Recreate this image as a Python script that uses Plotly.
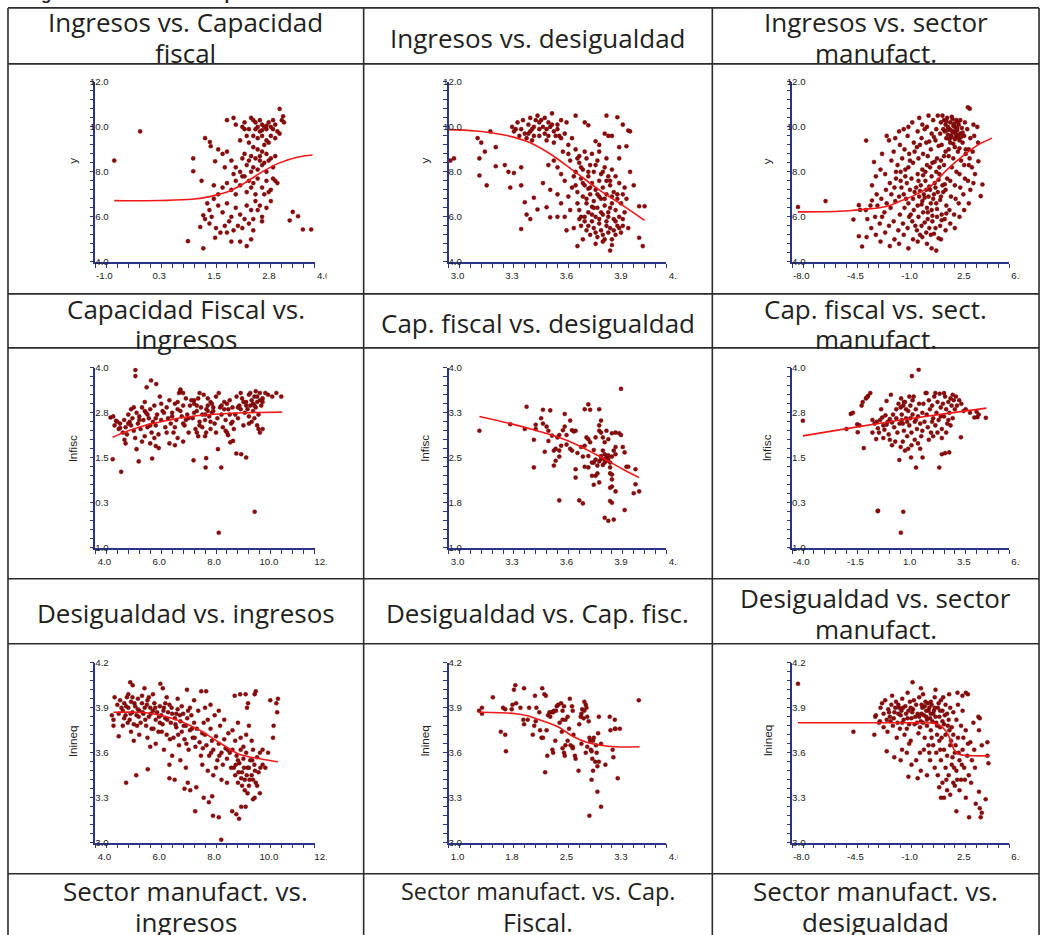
import plotly.graph_objects as go

W, H = 1042, 935

# ---------------- data ----------------
p1 = [(-0.57,8.5),(0.02,9.8),(1.23,8.6),(1.23,8.03),(1.42,7.6),(1.46,6.07),(1.11,4.92),(1.46,4.6),(1.5,9.5),(1.61,9.33),
      (1.63,9.14),(1.73,8.47),(1.39,5.55),(1.73,5.07),(3.92,5.44),(3.73,5.44),(3.62,6.03),(3.5,6.22),(3.43,5.84),(3.2,10.8),
      (3.28,10.47),(3.25,10.3),(3.3,10.2),
      (2.55,10.4),(2.6,10.3),(2.65,9.9),(2.7,10.0),(2.75,9.8),(2.8,10.1),(2.85,10.0),(2.9,9.9),(2.95,10.2),(3.0,10.0),(3.05,9.9),
      (3.1,10.1),(3.15,9.8),(3.2,9.7),(2.7,9.5),(2.8,9.6),(2.9,9.4),(3.0,9.6),(2.6,9.6),(2.45,9.6),(2.4,9.9),(2.35,10.0),(2.2,10.1),
      (2.15,10.4),(2.0,10.3),(2.3,9.4),(2.5,9.3),(2.85,9.2),(2.95,9.3),(3.1,9.5),(2.75,10.3),(2.65,10.2),(3.05,10.3),(2.9,10.05),
      (2.8,9.85),(2.5,9.9),(2.4,10.2),
      (2.6,9.1),(2.7,9.0),(2.8,8.9),(2.9,8.8),(2.55,8.7),(2.65,8.6),(2.75,8.5),(2.85,8.4),(2.5,8.5),(2.45,8.3),(2.6,8.2),(2.7,8.1),
      (2.8,8.3),(2.9,8.0),(3.0,8.6),(3.05,8.2),(2.35,8.6),(2.2,8.2),(2.1,8.5),(2.0,8.9),(1.9,8.8),(1.8,9.0),(2.3,8.0),(2.15,7.9),
      (1.95,8.2),(2.4,8.8),(2.55,8.0),(2.75,8.7),(2.95,8.5),(3.1,8.7),
      (2.0,7.5),(2.1,7.2),(2.2,7.6),(2.3,7.4),(2.4,7.8),(2.5,7.6),(2.6,7.5),(2.7,7.7),(2.8,7.3),(2.9,7.6),(3.0,7.2),(3.1,7.6),
      (3.15,7.5),(3.05,7.7),(1.8,7.0),(1.9,7.3),(2.2,7.0),(2.45,7.1),(2.65,7.0),(2.85,7.0),(2.95,7.1),(1.7,7.4),(2.35,7.8),(2.55,7.3),
      (1.6,6.3),(1.65,6.0),(1.7,6.8),(1.8,6.5),(1.9,6.2),(2.0,6.6),(2.05,5.8),(2.1,6.0),(2.2,6.4),(2.25,5.6),(2.3,6.1),(2.4,5.9),
      (2.45,6.5),(2.5,5.7),(2.55,6.3),(2.6,5.9),(2.65,6.7),(2.7,6.3),(2.75,6.5),(2.8,6.0),(2.9,6.4),(3.0,6.7),(1.75,5.5),(1.85,5.3),
      (1.95,5.6),(2.0,5.3),(2.15,5.4),(2.35,5.5),(2.6,5.4),(2.8,5.8),(2.1,4.9),(2.3,4.9),(2.45,4.7),(2.55,5.0),(1.55,6.6),(1.5,5.9),(1.6,5.7)]
c1x = [-0.57, 0.5, 1.2, 1.6, 2.0, 2.4, 2.8, 3.2, 3.6, 3.95]
c1y = [6.72, 6.73, 6.78, 6.9, 7.1, 7.5, 8.0, 8.4, 8.65, 8.75]

p2 = [(3.01,8.5),(3.03,8.6),(3.16,9.5),(3.18,9.3),(3.17,8.6),(3.17,7.84),(3.21,7.4),(3.2,8.9),(3.26,8.25),(3.26,9.1),(3.23,9.8),
      (3.31,8.3),(3.33,8.0),(3.34,7.3),(3.36,7.95),(3.4,8.2),(3.4,7.4),(3.42,6.65),(3.43,6.1),(3.4,5.46),(3.45,5.9),(3.47,6.85),
      (3.49,6.33),(3.54,6.43),(3.56,5.98),(3.71,4.7),(3.89,4.5),(4.05,5.07),(4.07,4.7),(4.08,6.47),(4.05,6.47),(4.02,7.4),(4.0,8.0),
      (3.99,9.84),(4.0,9.8),(3.96,10.1),(3.93,10.43),(3.87,10.5),(3.77,10.07),(3.75,10.2),(3.7,10.5),(3.65,10.2),(3.98,9.14),
      (3.94,8.6),(3.94,9.1),(3.9,9.6),(3.88,9.6),(3.86,9.7),(3.83,9.2),(3.81,9.36),
      (3.35,10.0),(3.38,10.2),(3.4,9.9),(3.42,9.7),(3.44,10.1),(3.45,9.8),(3.47,10.0),(3.48,10.3),(3.5,9.9),(3.52,10.0),(3.53,9.7),
      (3.55,10.2),(3.56,10.0),(3.58,9.8),(3.6,10.1),(3.61,9.6),(3.43,9.5),(3.46,9.4),(3.5,9.6),(3.54,9.4),(3.58,9.3),(3.62,9.5),
      (3.39,9.6),(3.36,9.8),(3.49,10.5),(3.53,10.4),(3.57,10.6),(3.45,10.4),(3.41,10.3),(3.6,9.9),(3.64,9.7),(3.66,9.2),(3.68,9.5),
      (3.63,8.9),(3.66,8.8),(3.7,9.0),(3.67,8.5),(3.72,8.7),(3.58,8.5),(3.6,8.2),(3.62,7.9),(3.55,8.3),(3.52,7.5),(3.56,7.2),
      (3.6,7.0),(3.64,7.6),(3.66,6.9),(3.62,6.6),(3.6,6.0),(3.64,6.0),(3.67,6.3),(3.65,5.4),(3.69,5.5),(3.68,7.3),
      (3.72,8.4),(3.74,8.1),(3.76,8.6),(3.78,8.3),(3.8,8.0),(3.82,8.5),(3.84,7.9),(3.86,8.2),(3.88,7.8),(3.9,8.1),(3.73,7.7),
      (3.75,7.4),(3.77,7.8),(3.79,7.5),(3.81,7.2),(3.83,7.6),(3.85,7.3),(3.87,7.0),(3.89,7.4),(3.91,7.1),(3.93,6.8),(3.71,7.1),
      (3.74,6.9),(3.76,6.6),(3.78,7.0),(3.8,6.7),(3.82,6.4),(3.84,6.8),(3.86,6.5),(3.88,6.2),(3.9,6.6),(3.92,6.3),(3.94,6.0),
      (3.72,6.3),(3.75,6.0),(3.77,6.2),(3.79,5.8),(3.81,6.0),(3.83,5.7),(3.85,6.1),(3.87,5.8),(3.89,5.5),(3.91,5.9),(3.93,5.6),
      (3.95,5.3),(3.73,5.6),(3.76,5.4),(3.78,5.2),(3.8,5.5),(3.82,5.1),(3.84,5.4),(3.86,5.0),(3.88,5.3),(3.9,5.0),(3.92,5.2),
      (3.96,5.6),(3.97,6.2),(3.95,6.6),(3.96,7.0),(3.98,6.8),(3.75,8.9),(3.79,8.8),(3.83,8.9),(3.87,8.6),(3.7,8.0),(3.74,5.0),
      (3.81,4.8),(3.85,4.9),(3.9,4.75),(3.99,5.5),(3.94,7.5),(3.92,7.8),(3.97,7.3),(3.79,6.45),(3.83,6.9),(3.87,7.6),(3.77,7.25),
      (3.73,8.2),(3.77,8.0),(3.81,8.3),(3.85,8.0),(3.89,7.6),(3.74,7.5),(3.78,7.3),(3.82,7.0),(3.86,6.8),(3.9,6.9),(3.76,6.8),
      (3.8,6.4),(3.84,6.2),(3.88,6.0),(3.92,5.8),(3.75,5.8),(3.79,6.1),(3.83,5.9),(3.87,5.6),(3.91,5.4),(3.71,6.6),(3.7,7.4),
      (3.72,5.9),(3.94,5.5),(3.96,5.9),(3.85,5.2),(3.81,5.3),(3.77,5.6),(3.73,6.0),(3.89,6.4),(3.93,7.0),(3.69,7.8),(3.71,8.6),
      (3.46,9.9),(3.5,10.2),(3.54,9.9),(3.57,10.1),(3.44,9.7),(3.47,9.6),(3.51,10.3),(3.55,9.6),(3.59,9.6),(3.62,10.3),(3.37,9.9)]
c2x = [3.0, 3.15, 3.3, 3.43, 3.55, 3.68, 3.83, 3.98, 4.08]
c2y = [9.88, 9.82, 9.65, 9.36, 8.85, 8.1, 7.2, 6.4, 5.84]

p3 = [(-7.63,6.44),(-5.85,6.7),(-3.23,9.39),(-4.05,5.88),(-3.7,6.52),(-3.7,5.14),(-3.49,4.68),(-3.62,6.31),(-2.85,6.73),
      (-2.72,8.44),(4.28,7.44),(4.02,8.47),(4.17,6.92),(3.34,10.87),(3.46,10.81),
      (-3.2,5.1),(-3.15,5.9),(-3.25,6.3),(-2.9,5.5),(-2.95,6.5),(-2.85,7.4),(-2.6,5.2),(-2.65,6.0),(-2.55,7.0),(-2.6,7.8),
      (-2.3,4.9),(-2.35,5.7),(-2.25,6.8),(-2.3,8.1),(-2.2,8.8),(-2.0,5.3),(-2.05,6.2),(-1.95,7.2),(-2.0,7.9),(-1.9,9.6),
      (-1.7,4.7),(-1.75,5.6),(-1.65,6.4),(-1.7,7.5),(-1.6,8.5),(-1.75,9.4),(-1.4,5.0),(-1.45,5.8),(-1.35,6.7),(-1.4,7.3),
      (-1.3,8.0),(-1.45,8.9),(-1.35,9.5),(-1.1,4.8),(-1.15,5.4),(-1.05,6.1),(-1.1,6.9),(-1.0,7.6),(-1.2,8.3),(-1.05,9.2),
      (-1.1,9.8),(-0.8,5.2),(-0.85,5.7),(-0.75,6.4),(-0.8,7.0),(-0.7,7.8),(-0.9,8.6),(-0.75,9.0),(-0.8,9.9),(-0.5,4.6),
      (-0.55,5.5),(-0.45,6.0),(-0.5,6.6),(-0.4,7.2),(-0.6,7.5),(-0.5,8.2),(-0.45,8.8),(-0.55,9.6),(-0.5,10.0),(-0.2,5.0),
      (-0.25,5.8),(-0.15,6.3),(-0.2,6.8),(-0.1,7.1),(-0.3,7.7),(-0.2,8.4),(-0.15,9.3),(-0.25,10.2),(0.1,4.9),(0.05,5.4),
      (0.15,6.0),(0.1,6.5),(0.2,6.9),(0.0,7.3),(0.1,7.9),(0.15,8.6),(0.05,9.1),(0.1,9.8),(0.2,10.4),(0.4,5.1),(0.35,5.6),
      (0.45,6.2),(0.4,6.7),(0.5,7.0),(0.3,7.4),(0.4,8.1),(0.45,8.8),(0.35,9.5),(0.4,10.1),(0.7,4.8),(0.65,5.3),(0.75,5.9),
      (0.7,6.4),(0.8,6.9),(0.6,7.6),(0.7,8.3),(0.75,8.7),(0.65,9.3),(0.7,10.0),(0.8,10.5),(1.0,4.6),(0.95,5.2),(1.05,5.8),
      (1.0,6.3),(1.1,6.8),(0.9,7.2),(1.0,7.8),(1.05,8.4),(0.95,9.0),(1.0,9.7),(1.1,10.3),(1.3,4.5),(1.25,5.5),(1.35,6.0),
      (1.3,6.6),(1.4,7.1),(1.2,7.5),(1.3,8.0),(1.35,8.6),(1.25,9.4),(1.3,9.9),(1.4,10.5),(1.6,5.0),(1.55,5.6),(1.65,6.1),
      (1.6,6.9),(1.7,7.4),(1.5,7.9),(1.6,8.5),(1.65,9.2),(1.55,9.7),(1.6,10.2),(1.7,10.5),(1.9,5.4),(1.85,5.9),(1.95,6.5),
      (1.9,7.2),(2.0,7.7),(1.8,8.3),(1.9,8.9),(1.95,9.5),(1.85,9.8),(1.9,10.1),(2.0,10.4),(2.2,5.7),(2.15,6.3),(2.25,6.9),
      (2.2,7.6),(2.3,8.2),(2.1,8.7),(2.2,9.3),(2.25,9.6),(2.15,9.9),(2.2,10.2),(2.5,5.5),(2.45,6.1),(2.55,6.8),(2.5,7.4),
      (2.6,8.0),(2.4,8.6),(2.5,9.1),(2.55,9.5),(2.45,9.8),(2.5,10.0),(2.6,10.3),(2.8,6.0),(2.75,6.6),(2.85,7.3),(2.8,7.9),
      (2.9,8.5),(2.7,8.9),(2.8,9.4),(2.85,9.7),(2.75,10.1),(3.1,6.3),(3.05,7.0),(3.15,7.7),(3.1,8.3),(3.2,8.8),(3.0,9.3),
      (3.1,9.6),(3.15,10.2),(3.4,6.6),(3.35,7.6),(3.45,8.6),(3.4,9.0),(3.5,9.5),(3.3,9.9),(3.7,7.5),(3.65,8.9),(3.75,9.6),
      (3.7,10.1),(4.0,9.3),(3.95,10.0),(2.35,9.75),(2.65,9.85),(2.05,9.65),(2.4,10.05),(2.7,9.55),(1.8,10.3),(2.95,9.95),
      (0.25,7.15),(0.55,6.85),(0.85,7.35),(1.15,7.0),(1.45,7.65),(1.75,7.1),(0.35,6.55),(0.65,7.2),(0.95,6.6),(1.25,7.3),
      (1.55,6.75),(1.85,7.45),(0.15,7.6),(0.45,7.85),(0.75,6.2),(1.05,6.05),(1.35,6.35),(1.65,5.85),(1.95,6.15),(0.55,5.75),
      (0.85,5.5),(1.15,5.25),(1.45,5.05),(0.25,5.2),(-0.05,5.6),(-0.35,6.1),(-0.65,6.8),(-0.95,7.3),(0.6,8.0),(0.9,8.2),
      (1.2,8.45),(1.5,8.2),(1.8,8.7),(2.1,9.0),(2.4,9.25),(2.3,9.55),(2.0,9.85),(2.6,9.65),(2.7,10.2),(2.35,10.35),(2.05,10.0),
      (1.75,9.9),(2.5,9.45),(2.8,9.05),(2.15,9.45),(2.45,10.15),(1.95,10.25),(2.25,9.85),(2.55,9.7),(2.65,9.95),(2.85,10.3),
      (3.0,9.75),(2.9,9.55),(2.3,10.45),(1.45,9.15),(1.15,9.55),(0.85,9.35),(0.55,9.9),(0.25,9.2),(-0.1,8.9),(-0.4,8.5),
      (-0.7,8.1),(-1.0,8.0),(-1.3,7.7),(-1.6,7.0),(-1.9,6.6),(-2.2,6.0),(-2.5,6.5),(3.2,9.0),(3.4,8.3),(3.6,8.2),(3.5,7.2),(3.8,7.9)]
c3x = [-7.63, -5.0, -3.5, -2.0, -1.0, 0.0, 1.0, 2.0, 3.0, 4.0, 4.9]
c3y = [6.22, 6.25, 6.33, 6.45, 6.7, 7.0, 7.4, 8.1, 8.7, 9.2, 9.5]

p4 = [(4.63,1.46),(4.94,1.11),(5.46,3.94),(5.46,3.77),(5.87,3.46),(6.03,3.65),(6.22,3.55),(4.75,2.53),(4.9,2.33),(5.06,2.0),
      (5.5,1.74),(5.58,1.4),(6.07,1.48),(6.31,1.77),(6.2,1.83),(7.58,1.43),(8.02,1.23),(8.04,1.49),(8.59,1.23),(8.47,1.74),
      (9.14,1.62),(9.32,1.6),(9.5,1.51),(9.02,1.97),(8.92,1.93),(8.5,-0.58),(9.81,0.0),(8.04,2.2),(8.75,2.25),(8.84,2.13),
      (4.55,2.62),(4.7,2.4),(4.85,2.3),(4.9,2.45),(5.0,2.2),(5.05,2.55),(5.1,2.35),(5.15,2.15),(5.2,2.7),(5.25,2.5),(5.3,2.4),
      (5.35,2.6),(5.4,2.25),(5.45,2.05),(5.5,2.75),(4.65,2.65),(5.1,1.9),(5.3,2.85),
      (5.55,2.45),(5.6,2.65),(5.65,2.3),(5.7,2.9),(5.75,2.55),(5.8,2.1),(5.85,2.75),(5.9,2.35),(5.95,2.6),(6.0,2.85),(6.05,2.2),
      (6.1,2.5),(6.15,2.95),(6.2,2.4),(6.25,2.7),(6.3,2.15),(6.35,3.2),(6.4,2.55),(6.45,2.8),(5.7,1.95),(5.8,3.05),(6.0,1.9),(6.15,2.05),
      (6.55,2.35),(6.6,2.9),(6.65,2.6),(6.7,3.1),(6.75,2.45),(6.8,2.75),(6.85,2.2),(6.9,3.0),(6.95,2.55),(7.0,2.85),(7.05,3.3),
      (7.1,3.4),(7.15,2.65),(7.2,2.95),(7.25,2.4),(7.3,3.15),(7.35,2.7),(7.4,2.2),(7.45,2.95),(6.7,1.9),(6.9,1.85),(7.0,2.05),
      (7.2,1.95),(7.3,2.55),(7.1,3.35),(7.2,3.3),
      (7.55,2.6),(7.6,3.0),(7.65,2.3),(7.7,2.8),(7.75,3.15),(7.8,2.5),(7.85,2.9),(7.9,2.7),(7.95,3.25),(8.0,2.55),(8.05,2.85),
      (8.1,2.95),(8.15,2.65),(8.2,3.05),(8.25,2.75),(8.3,2.9),(8.35,2.45),(8.4,3.2),(8.45,2.6),(7.7,2.2),(7.9,2.35),(8.0,2.1),
      (8.2,2.3),(7.6,3.1),(7.8,3.3),(8.1,2.8),(8.25,3.0),(7.75,2.1),
      (8.5,3.3),(8.55,2.9),(8.6,2.7),(8.7,3.05),(8.75,2.55),(8.85,2.85),(8.9,3.1),(8.95,2.45),(9.0,2.9),(9.1,2.7),(9.15,3.2),
      (9.2,2.6),(9.3,2.85),(9.35,3.15),(9.4,2.4),(9.45,2.75),(8.65,2.35),(8.8,2.2),(9.05,2.3),(9.25,2.95),
      (9.5,3.05),(9.55,2.85),(9.6,3.25),(9.65,2.95),(9.7,3.1),(9.75,2.8),(9.8,3.2),(9.85,2.9),(9.9,3.05),(9.95,2.7),(10.0,3.3),
      (10.05,2.95),(10.1,3.15),(10.2,3.3),(10.3,3.25),(10.45,3.2),(9.6,2.45),(9.7,2.5),(9.9,2.4),(9.95,2.3),(10.0,2.2),(10.1,2.3),
      (9.8,2.6),(9.65,3.3),(9.75,3.0),(9.85,3.35),(10.78,3.2),(10.6,3.3),
      (5.6,2.55),(5.9,2.7),(6.2,2.6),(6.5,2.75),(6.8,2.65),(7.1,2.8),(7.4,2.6),(7.7,2.95),(8.0,2.7),(8.3,2.8),(8.6,2.95),
      (8.9,2.7),(9.2,2.9),(9.5,2.95),(9.8,2.95),(10.1,3.05),(6.0,2.4),(6.6,2.2),(7.2,2.45),(7.8,2.4),(8.4,2.2),(9.0,2.5),
      (9.6,2.65),(5.2,2.45),(5.8,2.8),(6.4,3.0),(7.0,3.05),(7.6,2.75),(8.2,2.5),(8.8,3.0),(9.4,3.05),(10.0,3.1),(4.8,2.5),
      (5.4,2.9),(6.9,2.35),(7.5,3.1),(8.1,3.15),(8.7,2.85),(9.3,3.3),(9.9,3.2)]
c4x = [4.63, 5.2, 5.8, 6.5, 7.2, 8.0, 9.0, 10.0, 10.8]
c4y = [2.07, 2.25, 2.4, 2.52, 2.62, 2.69, 2.74, 2.76, 2.77]

p5 = [(3.43,3.35),(3.52,3.3),(3.56,3.29),(3.64,3.23),(3.77,3.39),(3.75,3.31),(3.78,3.3),(3.83,3.31),(3.84,3.12),(3.95,3.65),
      (3.17,2.95),(3.34,3.06),(3.42,2.98),(3.48,3.05),(3.48,2.98),(3.51,3.16),(3.52,3.07),(3.54,3.02),(3.55,2.95),(3.55,2.78),
      (3.47,2.8),(3.47,2.34),(3.58,2.37),(3.59,2.45),(3.61,1.79),(3.58,2.62),(3.59,2.65),(3.61,2.62),(3.62,2.7),(3.6,2.84),
      (3.61,2.88),(3.63,2.96),(3.64,3.02),(3.65,2.88),(3.65,2.72),(3.67,3.12),(3.68,2.96),(3.69,2.94),(3.7,2.95),(3.67,2.65),
      (3.68,2.62),(3.7,2.31),(3.7,2.17),(3.72,1.79),(3.74,1.74),(3.74,2.52),(3.75,2.35),(3.73,2.68),(3.75,2.7),(3.76,2.84),
      (3.77,2.81),(3.78,2.76),(3.77,2.53),(3.79,2.2),(3.8,2.05),(3.81,2.2),(3.82,2.24),(3.83,2.09),(3.81,2.84),(3.83,2.95),
      (3.83,3.04),(3.84,2.92),(3.85,2.84),(3.86,2.76),(3.86,2.56),(3.86,2.48),(3.87,2.51),(3.87,2.45),(3.88,2.54),(3.88,2.48),
      (3.89,2.42),(3.85,2.38),(3.89,2.34),(3.9,2.52),(3.91,2.62),(3.92,2.68),(3.92,2.56),(3.87,2.95),(3.88,2.81),(3.9,2.91),
      (3.92,2.92),(3.94,2.91),(3.95,2.88),(3.96,2.68),(3.97,2.59),(3.89,2.24),(3.9,2.22),(3.9,2.14),(3.9,2.02),(3.89,2.0),
      (3.92,1.94),(3.89,1.78),(3.9,1.75),(3.86,1.5),(3.88,1.45),(3.91,1.47),(3.97,1.63),(3.98,2.35),(3.99,2.35),(4.03,2.31),
      (4.03,2.06),(4.05,1.94),(4.02,1.91),(3.61,2.52),(3.83,2.44),(3.84,2.48),(3.84,2.53),(3.82,2.37),(3.8,2.42),(3.79,2.42),
      (3.77,2.34),(3.53,2.6),(3.57,2.87),(3.71,2.58),(3.8,2.63),(3.85,2.62),(3.86,2.42),(3.81,2.47)]
c5x = [3.17, 3.34, 3.5, 3.66, 3.81, 3.96, 4.05]
c5y = [3.19, 3.07, 2.94, 2.78, 2.56, 2.31, 2.17]

p6 = [(-3.51,2.53),(-0.06,0.02),(-0.04,0.03),(1.12,0.0),(1.01,-0.58),(1.52,3.77),(1.83,3.95),(-0.98,2.21),(-0.7,1.77),
      (-0.13,2.02),(0.94,1.44),(1.48,1.51),(1.71,1.23),(2.01,1.51),(2.78,1.23),(2.9,1.6),(3.05,1.63),(3.24,1.65),(3.78,2.07),
      (4.93,2.61),(4.54,2.63),
      (-1.5,2.3),(-1.3,2.72),(-1.2,2.75),(-1.0,2.43),(-0.9,2.4),(-0.8,2.95),(-0.6,3.15),(-0.5,3.22),(-0.4,3.3),(-0.55,3.18),
      (-0.75,3.05),(-0.3,2.55),(-0.2,2.45),(-0.1,2.5),(-0.05,2.32),(0.0,2.2),(0.1,2.85),(0.15,2.62),(0.2,2.4),(0.25,2.28),
      (0.3,2.68),(0.35,3.08),(0.4,2.5),(0.45,2.15),(0.5,2.58),(0.55,3.25),(0.6,2.48),(0.65,2.7),(0.7,2.35),(0.75,1.95),(0.8,2.6),
      (0.85,2.2),(0.9,3.0),(0.95,2.45),(0.8,2.85),(0.6,1.85),(0.5,2.0),(0.2,2.05),(-0.3,2.2),(0.05,2.55),(0.35,2.42),
      (1.0,2.9),(1.02,3.15),(1.05,2.7),(1.1,2.45),(1.12,2.95),(1.15,2.25),(1.2,3.05),(1.25,2.6),(1.3,2.1),(1.35,2.8),(1.4,2.4),
      (1.45,2.95),(1.5,2.2),(1.55,2.7),(1.6,3.2),(1.65,2.5),(1.7,2.85),(1.75,2.3),(1.8,2.65),(1.85,3.0),(1.9,2.45),(1.95,2.1),
      (2.0,2.75),(1.0,1.8),(1.1,1.95),(1.2,1.7),(1.35,1.75),(1.5,1.85),(1.65,2.0),(1.8,1.9),(1.9,1.75),(2.0,2.25),(1.05,2.55),
      (1.25,2.85),(1.45,2.6),(1.55,3.1),(1.4,3.2),(1.7,2.55),(1.15,3.05),(1.3,2.5),
      (2.05,3.0),(2.1,2.5),(2.15,3.3),(2.2,2.7),(2.25,2.35),(2.3,3.1),(2.35,2.85),(2.4,2.2),(2.45,2.95),(2.5,2.6),(2.55,3.2),
      (2.6,2.4),(2.65,2.75),(2.7,3.05),(2.75,2.55),(2.8,3.28),(2.85,2.9),(2.9,2.3),(2.95,3.0),(3.0,2.65),(3.05,3.2),(3.1,2.85),
      (3.15,2.45),(3.2,3.05),(3.25,2.75),(3.3,3.15),(3.35,2.95),(3.4,2.6),(3.45,3.1),(3.5,2.85),(3.55,3.2),(3.6,2.95),(3.7,3.1),
      (3.8,3.0),(3.9,2.8),(4.0,2.85),(4.2,2.75),(4.4,2.62),(4.5,2.78),(4.6,2.7),(2.3,2.0),(2.5,2.1),(2.7,2.2),(2.9,2.05),
      (3.1,2.2),(3.3,2.4),(2.2,3.3),(2.6,3.3),(3.0,3.3),(3.4,3.25),(3.2,2.55),(2.45,2.5),(2.85,2.65)]
c6x = [-3.51, -1.0, 1.0, 3.0, 4.96]
c6y = [2.11, 2.36, 2.55, 2.72, 2.88]

p7 = [(4.66,3.82),(4.66,3.78),(4.85,3.71),(5.12,3.4),(5.49,3.45),(5.91,3.49),(5.27,4.07),(5.36,4.05),(5.79,4.03),(6.37,4.06),
      (6.46,4.03),(7.34,4.02),(7.86,4.01),(8.04,4.01),(6.7,3.43),(6.89,3.42),(7.25,3.36),(7.46,3.35),(7.37,3.4),(7.64,3.21),
      (7.68,3.37),(7.95,3.3),(8.14,3.27),(8.26,3.31),(8.29,3.18),(8.5,3.17),(8.59,3.02),(8.99,3.21),(9.14,3.19),(9.24,3.16),
      (9.32,3.24),(9.48,3.24),(9.81,3.3),(9.75,3.29),(10.0,3.33),(9.08,3.98),(9.28,3.99),(9.48,3.99),(9.81,3.99),(9.85,4.01),
      (10.38,3.95),(10.6,3.93),(10.66,3.96),(10.63,3.87),(10.5,3.78),(10.48,3.7),(9.53,3.9),(9.57,3.93),
      (4.8,3.92),(4.9,3.95),(5.0,3.88),(5.05,3.93),(5.1,3.85),(5.15,3.97),(5.2,3.9),(5.25,3.82),(5.3,3.94),(5.35,3.87),(5.4,3.79),
      (5.45,3.91),(5.5,3.85),(5.55,3.96),(5.6,3.88),(5.65,3.8),(5.7,3.93),(5.75,3.86),(5.8,3.9),(5.85,3.78),(5.9,3.95),(5.95,3.84),
      (6.0,3.9),(6.05,3.76),(6.1,3.88),(6.15,3.93),(6.2,3.82),(6.25,3.87),(6.3,3.74),(6.35,3.91),(6.4,3.85),(6.45,3.79),(6.5,3.9),
      (6.55,3.83),(6.6,3.72),(6.65,3.87),(6.7,3.92),(6.75,3.8),(6.8,3.86),(6.85,3.7),(6.9,3.83),(6.95,3.77),(7.0,3.89),(7.05,3.65),
      (7.1,3.81),(7.15,3.74),(7.2,3.86),(7.25,3.69),(7.3,3.78),(7.35,3.83),(7.4,3.62),(7.45,3.75),(7.5,3.85),(7.55,3.7),(7.6,3.8),
      (7.65,3.64),(7.7,3.76),(7.75,3.88),(7.8,3.67),(7.85,3.58),(7.9,3.73),(7.95,3.8),(4.6,3.85),(4.7,3.97),(5.0,3.78),(5.3,3.74),
      (5.6,3.72),(5.9,3.7),(6.2,3.66),(6.5,3.62),(6.8,3.58),(7.1,3.55),(5.7,3.98),(6.1,3.99),(6.6,3.97),(5.2,3.99),(7.0,3.96),
      (7.6,3.95),(5.4,3.68),(6.0,3.64),(6.7,3.52),(7.3,3.5),(5.05,3.83),(5.55,3.89),(6.35,3.8),(6.95,3.86),(7.45,3.9),
      (8.0,3.72),(8.05,3.65),(8.1,3.82),(8.15,3.58),(8.2,3.76),(8.25,3.68),(8.3,3.62),(8.35,3.85),(8.4,3.71),(8.45,3.55),(8.5,3.66),
      (8.55,3.78),(8.6,3.6),(8.65,3.52),(8.7,3.69),(8.75,3.63),(8.8,3.56),(8.85,3.73),(8.9,3.6),(8.95,3.5),(8.1,3.48),(8.3,3.45),
      (8.6,3.42),(8.8,3.4),(8.0,3.9),(8.2,3.92),(8.5,3.88),(8.7,3.82),(7.9,3.52),(8.4,3.5),
      (9.0,3.62),(9.05,3.5),(9.1,3.45),(9.15,3.58),(9.2,3.4),(9.25,3.53),(9.3,3.62),(9.35,3.47),(9.4,3.56),(9.45,3.42),(9.5,3.6),
      (9.55,3.5),(9.6,3.38),(9.65,3.55),(9.7,3.45),(9.75,3.62),(9.8,3.52),(9.85,3.4),(9.9,3.57),(9.95,3.47),(10.0,3.6),(10.1,3.52),
      (10.2,3.5),(10.3,3.6),(9.2,3.55),(9.4,3.64),(9.6,3.5),(9.45,3.35),(9.55,3.33),(9.35,3.38),(9.75,3.42),(9.9,3.38),(9.1,3.68),
      (9.3,3.7),(9.5,3.72),(9.7,3.68),(9.0,3.75),(9.2,3.8),(9.6,3.78),(10.1,3.62),
      (4.95,3.9),(5.12,3.91),(5.28,3.86),(5.42,3.93),(5.58,3.84),(5.72,3.87),(5.88,3.92),(6.02,3.86),(6.18,3.9),(6.32,3.84),
      (6.48,3.88),(6.62,3.82),(6.78,3.9),(6.92,3.79),(7.08,3.85),(7.22,3.78),(7.38,3.88),(7.52,3.76),(5.18,3.8),(5.52,3.78),
      (5.82,3.82),(6.12,3.76),(6.42,3.74),(6.72,3.69),(7.02,3.72),(7.32,3.66),(7.62,3.7),(7.92,3.63),(8.22,3.6),(8.52,3.58),
      (8.82,3.62),(9.12,3.52),(9.42,3.5),(9.72,3.55),(9.52,3.45),(9.82,3.48),(9.32,3.43),(9.62,3.42),(10.02,3.5),(9.22,3.47),
      (5.35,3.97),(5.95,3.97),(6.55,3.93),(7.15,3.91),(4.85,3.86)]
c7x = [4.66, 5.5, 6.1, 6.95, 7.8, 8.5, 9.25, 10.0, 10.66]
c7y = [3.87, 3.87, 3.86, 3.82, 3.75, 3.67, 3.59, 3.56, 3.54]

p8 = [(1.42,3.88),(1.46,3.9),(1.46,3.86),(1.61,3.97),(1.72,3.74),(1.75,3.9),(1.78,3.89),(1.78,3.72),(1.79,3.61),(1.87,3.89),
      (1.88,3.92),(1.9,4.02),(1.92,4.05),(1.93,3.93),(1.99,3.9),(2.04,4.03),(2.03,3.82),(2.04,3.79),(2.09,3.82),(2.11,3.9),
      (2.16,3.72),(2.18,3.78),(2.19,3.98),(2.2,3.81),(2.21,3.9),(2.25,3.87),(2.29,4.03),(2.32,3.99),(2.34,3.98),(2.28,3.7),
      (2.3,3.7),(2.26,3.75),(2.35,3.75),(2.36,3.58),(2.33,3.47),(2.39,3.87),(2.42,3.87),(2.44,3.87),(2.45,3.88),(2.48,3.88),
      (2.43,3.62),(2.44,3.6),(2.49,3.91),(2.51,3.92),(2.55,3.93),(2.57,3.88),(2.59,3.91),(2.56,3.74),(2.57,3.82),(2.61,3.82),
      (2.64,3.84),(2.57,3.63),(2.59,3.6),(2.61,3.65),(2.6,3.58),(2.64,3.68),(2.66,3.76),(2.67,3.96),(2.7,3.91),(2.71,3.88),
      (2.72,3.72),(2.71,3.64),(2.71,3.63),(2.74,3.58),(2.75,3.56),(2.79,3.48),(2.8,3.79),(2.82,3.84),(2.83,3.86),(2.84,3.89),
      (2.86,3.83),(2.87,3.94),(2.89,3.92),(2.9,3.9),(2.87,3.88),(2.91,3.84),(2.93,3.81),(2.94,3.7),(2.95,3.68),(2.96,3.62),
      (2.97,3.61),(2.98,3.56),(2.99,3.68),(3.0,3.7),(2.94,3.18),(2.97,3.42),(2.99,3.48),(3.02,3.54),(3.03,3.65),(3.04,3.6),
      (3.05,3.51),(3.05,3.34),(3.06,3.73),(3.07,3.84),(3.07,3.54),(3.1,3.66),(3.16,3.52),(3.22,3.84),(3.23,3.75),(3.26,3.62),
      (3.27,3.57),(3.29,3.82),(3.29,3.76),(3.3,3.76),(3.33,3.43),(3.36,3.76),(3.62,3.95),(3.1,3.24),(2.89,3.6),(2.91,3.64),
      (2.37,3.85),(2.4,3.84),(2.53,3.8),(2.47,3.68),(2.68,3.65),(2.83,3.66)]
c8x = [1.42, 1.7, 1.93, 2.1, 2.25, 2.4, 2.52, 2.71, 2.9, 3.1, 3.3, 3.63]
c8y = [3.87, 3.867, 3.86, 3.845, 3.82, 3.795, 3.77, 3.71, 3.67, 3.65, 3.64, 3.64]

p9 = [(-7.63,4.06),(-4.05,3.74),(-2.7,3.72),(-2.34,3.81),(-2.64,3.84),(-1.9,3.61),(-1.41,3.57),(-0.91,3.62),(-0.23,4.07),
      (0.31,4.03),(1.49,3.37),(1.6,3.3),(2.6,3.21),(3.42,3.17),(3.85,3.26),(4.49,3.29),(4.11,3.23),(4.24,3.2),(4.17,3.17),
      (3.21,3.3),(4.06,3.34),(4.6,3.67),(4.6,3.58),(4.67,3.53),(3.21,4.0),(3.34,3.99),(2.99,3.98),(2.67,4.0),(2.13,3.99),
      (4.02,3.84),(4.11,3.83),(4.06,3.75),(4.24,3.65),
      (-2.3,3.9),(-2.2,3.93),(-2.1,3.86),(-2.0,3.95),(-1.9,3.82),(-1.8,3.89),(-1.7,3.84),(-1.6,3.92),(-1.5,3.78),(-1.4,3.87),
      (-1.3,3.94),(-1.2,3.8),(-1.1,3.9),(-1.0,3.85),(-0.9,3.96),(-0.8,3.82),(-0.7,3.91),(-0.6,3.76),(-0.5,3.88),(-0.4,3.94),
      (-0.3,3.83),(-0.2,3.89),(-0.1,3.79),(0.0,3.92),(0.1,3.86),(0.2,3.97),(0.3,3.81),(0.4,3.9),(0.5,3.85),(0.6,3.94),(0.7,3.78),
      (0.8,3.88),(0.9,3.83),(1.0,3.92),(1.1,3.86),(1.2,3.97),(1.3,3.8),(1.4,3.9),(1.5,3.84),(1.6,3.95),(1.7,3.88),(1.8,3.79),
      (1.9,3.92),(2.0,3.86),(2.1,3.82),(2.2,3.9),(2.3,3.77),(2.4,3.87),(-1.85,3.74),(-1.25,3.7),(-0.75,3.72),(-0.35,3.68),
      (0.15,3.73),(0.55,3.7),(0.95,3.75),(1.35,3.72),(-2.4,3.8),(-2.6,3.85),(-1.55,3.98),(-0.55,4.0),(0.45,3.99),(1.25,4.02),
      (-0.15,3.95),(0.75,3.93),(1.75,3.97),(-1.05,3.76),(0.25,3.77),(1.05,3.81),(-0.45,3.79),(0.65,3.84),(1.55,3.77),(-2.1,3.77),
      (-1.65,3.81),(-0.95,3.88),(0.35,3.86),(1.15,3.88),(-0.05,3.84),(0.85,3.9),(-0.65,3.86),(1.45,3.93),(0.55,3.91),(-1.35,3.9),
      (-1.0,3.55),(-0.6,3.6),(-0.3,3.52),(0.0,3.55),(0.3,3.48),(0.5,3.62),(0.7,3.45),(0.9,3.55),(1.1,3.65),(1.2,3.5),(1.3,3.6),
      (1.4,3.45),(1.5,3.68),(1.6,3.55),(1.7,3.4),(1.8,3.62),(1.9,3.5),(2.0,3.58),(2.1,3.45),(2.2,3.65),(2.3,3.52),(2.4,3.4),
      (2.5,3.6),(2.6,3.48),(2.7,3.7),(2.8,3.55),(2.9,3.42),(3.0,3.62),(3.1,3.5),(3.2,3.75),(3.3,3.58),(3.4,3.45),(3.5,3.67),
      (3.6,3.55),(3.7,3.8),(3.8,3.5),(2.0,3.35),(2.2,3.32),(2.5,3.38),(1.8,3.3),(2.8,3.35),(2.4,3.72),(2.6,3.82),(2.9,3.78),
      (3.0,3.88),(2.7,3.92),(0.1,3.43),(-0.5,3.44),(0.8,3.65),(1.0,3.7),(1.65,3.7),(2.15,3.75),
      (-1.45,3.83),(-1.15,3.86),(-0.85,3.9),(-0.55,3.83),(-0.25,3.87),(0.05,3.8),(0.35,3.92),(0.65,3.88),(0.95,3.86),(1.25,3.84),
      (1.55,3.88),(1.85,3.85),(-1.75,3.87),(-0.9,3.8),(-0.35,3.9),(0.2,3.84),(0.7,3.82),(1.2,3.9),(1.7,3.81),(2.05,3.78),
      (-1.15,3.92),(0.45,3.8),(0.95,3.94),(1.35,3.78),(1.9,3.72),(2.25,3.68),(2.55,3.65),(2.75,3.6),(2.35,3.57),(1.55,3.62),
      (0.85,3.6),(0.25,3.6),(-0.45,3.66),(3.05,3.7),(3.35,3.66),(3.15,3.42),(2.65,3.42),(2.95,3.52),(2.45,3.5),(1.95,3.42),
      (3.55,3.4),(3.75,3.62)]
c9x = [-7.63, -3.0, 0.0, 1.0, 1.49, 1.92, 2.24, 2.45, 2.78, 3.64, 4.75]
c9y = [3.8, 3.8, 3.8, 3.798, 3.785, 3.745, 3.68, 3.62, 3.59, 3.58, 3.58]

# axis ranges and tick labels
ING_RANGE, ING_LABELS = [4.0, 12.0], ["4.0", "6.0", "8.0", "10.0", "12.0"]
FISC_RANGE, FISC_LABELS = [-1.0, 4.0], ["-1.0", "0.3", "1.5", "2.8", "4.0"]
FISC2_RANGE, FISC2_LABELS = [1.0, 4.0], ["1.0", "1.8", "2.5", "3.3", "4.0"]
INEQ_RANGE, INEQ_LABELS = [3.0, 4.2], ["3.0", "3.3", "3.6", "3.9", "4.2"]
MANUF_RANGE, MANUF_LABELS = [-8.0, 6.0], ["-8.0", "-4.5", "-1.0", "2.5", "6.0"]
MANUF2_RANGE, MANUF2_LABELS = [-4.0, 6.0], ["-4.0", "-1.5", "1.0", "3.5", "6.0"]

titles = [
    [["Ingresos vs. Capacidad", "fiscal"], ["Ingresos vs. desigualdad"], ["Ingresos vs. sector", "manufact."]],
    [["Capacidad Fiscal vs.", "ingresos"], ["Cap. fiscal vs. desigualdad"], ["Cap. fiscal vs. sect.", "manufact."]],
    [["Desigualdad vs. ingresos"], ["Desigualdad vs. Cap. fisc."], ["Desigualdad vs. sector", "manufact."]],
    [["Sector manufact. vs.", "ingresos"], ["Sector manufact. vs. Cap.", "Fiscal."], ["Sector manufact. vs.", "desigualdad"]],
]
ytitles = ["y", "lnfisc", "lnineq"]

panels = [
    (p1, c1x, c1y, FISC_RANGE, FISC_LABELS, ING_RANGE, ING_LABELS),
    (p2, c2x, c2y, INEQ_RANGE, INEQ_LABELS, ING_RANGE, ING_LABELS),
    (p3, c3x, c3y, MANUF_RANGE, MANUF_LABELS, ING_RANGE, ING_LABELS),
    (p4, c4x, c4y, ING_RANGE, ING_LABELS, FISC_RANGE, FISC_LABELS),
    (p5, c5x, c5y, INEQ_RANGE, INEQ_LABELS, FISC2_RANGE, FISC2_LABELS),
    (p6, c6x, c6y, MANUF2_RANGE, MANUF2_LABELS, FISC_RANGE, FISC_LABELS),
    (p7, c7x, c7y, ING_RANGE, ING_LABELS, INEQ_RANGE, INEQ_LABELS),
    (p8, c8x, c8y, FISC2_RANGE, FISC2_LABELS, INEQ_RANGE, INEQ_LABELS),
    (p9, c9x, c9y, MANUF_RANGE, MANUF_LABELS, INEQ_RANGE, INEQ_LABELS),
]

# ---------------- layout geometry (target pixels on the 1042x935 picture) ----------------
COL_X0 = [95.5, 449, 793]
COL_X1 = [315, 667, 1010]
ROW_Y0 = [81, 367, 662]
ROW_Y1 = [261, 547, 842]
CLIP_X = [327, 678, 1021]
VLINES = [8, 364, 713, 1040]
HLINES = [7, 63, 293, 347, 578, 643, 873]
COL_CENTERS = [186, 538.5, 876.5]
TITLE_LINE_Y = [[21, 52], [308, 338], [597, 628], [890, 921]]
TITLE_SINGLE_Y = [37, 322, 612, 905]
YTITLE_X = [73, 425, 768]
YTITLE_Y = [160, 447, 740]
# title font size per cell (the bottom middle cell is set narrower in the original)
TITLE_SIZES = [[26, 26, 26], [26, 26, 26], [26, 26, 26], [26, (23.4, 25), 26]]

# the photographed page is slightly rescaled; compensate (measured from earlier renders)
SX, SY, OY = 0.983, 0.9885, 5.1
FW, FH = 1060, 941

AXIS_COLOR = "#2a3489"
MARKER_COLOR = "#8e0a0a"
LINE_COLOR = "#f01818"


def px(x):
    return (x / SX) / FW


def py(y):
    return 1 - ((y - OY) / SY) / FH


def ticks(rng):
    step = (rng[1] - rng[0]) / 4
    return [rng[0] + i * step for i in range(5)], step


fig = go.Figure()
layout = dict(width=FW, height=FH, margin=dict(l=0, r=0, t=0, b=0), autosize=False,
              paper_bgcolor="white", plot_bgcolor="white", showlegend=False)

tick_font = dict(family="Liberation Sans, Arial, sans-serif", size=9.7, color="#222222")
for i, (pts, cx, cy, xr, xl, yr, yl) in enumerate(panels):
    r, c = divmod(i, 3)
    k = "" if i == 0 else str(i + 1)
    fig.add_trace(go.Scatter(x=[p[0] for p in pts], y=[p[1] for p in pts], mode="markers",
                             marker=dict(size=4.1, color=MARKER_COLOR, line=dict(width=0.4, color="#5c0000")),
                             xaxis="x" + k, yaxis="y" + k, hoverinfo="skip"))
    fig.add_trace(go.Scatter(x=cx, y=cy, mode="lines", line=dict(color=LINE_COLOR, width=1.6, shape="spline"),
                             xaxis="x" + k, yaxis="y" + k, hoverinfo="skip"))
    xtv, xstep = ticks(xr)
    ytv, ystep = ticks(yr)
    common = dict(showline=True, linecolor=AXIS_COLOR, linewidth=1.5, showgrid=False, zeroline=False,
                  ticks="outside", ticklen=4, tickwidth=1, tickcolor=AXIS_COLOR, tickfont=tick_font,
                  tickmode="array", fixedrange=True)
    layout["xaxis" + k] = dict(common, range=xr, tickvals=xtv, ticktext=xl,
                               domain=[px(COL_X0[c]), px(COL_X1[c])], anchor="y" + k,
                               ticklabelshift=9,
                               minor=dict(ticks="outside", ticklen=4, tickcolor=AXIS_COLOR, tickwidth=1,
                                          dtick=xstep / 5, tick0=xr[0], showgrid=False))
    layout["yaxis" + k] = dict(common, range=yr, tickvals=ytv, ticktext=yl,
                               domain=[py(ROW_Y1[r]), py(ROW_Y0[r])], anchor="x" + k,
                               ticklabelstandoff=-21,
                               minor=dict(ticks="outside", ticklen=4, tickcolor=AXIS_COLOR, tickwidth=1,
                                          dtick=ystep / 5, tick0=yr[0], showgrid=False))

shapes = []
annotations = []
# white clip of tick labels beyond the image edge
for r in range(3):
    for c in range(3):
        shapes.append(dict(type="rect", xref="paper", yref="paper", layer="above",
                           x0=px(CLIP_X[c]), x1=px(VLINES[c + 1] - 2),
                           y0=py(ROW_Y1[r] + 24), y1=py(ROW_Y1[r] + 3),
                           fillcolor="white", line=dict(width=0)))
# table grid
for x in VLINES:
    shapes.append(dict(type="line", xref="paper", yref="paper", layer="above",
                       x0=px(x), x1=px(x), y0=py(HLINES[0]), y1=0, line=dict(color="#2b2b2b", width=1.6)))
for y in HLINES:
    shapes.append(dict(type="line", xref="paper", yref="paper", layer="above",
                       x0=px(VLINES[0]), x1=px(VLINES[-1]), y0=py(y), y1=py(y), line=dict(color="#2b2b2b", width=1.6)))

for r, row in enumerate(titles):
    for c, lines in enumerate(row):
        sz = TITLE_SIZES[r][c]
        sizes = sz if isinstance(sz, tuple) else (sz, sz)
        if len(lines) == 1:
            annotations.append(dict(text=lines[0], x=px(COL_CENTERS[c]), y=py(TITLE_SINGLE_Y[r]),
                                    xref="paper", yref="paper", xanchor="center", yanchor="middle",
                                    showarrow=False,
                                    font=dict(family="Open Sans, Noto Sans, sans-serif", size=sizes[0], color="#231f20")))
        else:
            for j, t in enumerate(lines):
                annotations.append(dict(text=t, x=px(COL_CENTERS[c]), y=py(TITLE_LINE_Y[r][j]),
                                        xref="paper", yref="paper", xanchor="center", yanchor="middle",
                                        showarrow=False,
                                        font=dict(family="Open Sans, Noto Sans, sans-serif", size=sizes[j], color="#231f20")))

for r in range(3):
    for c in range(3):
        annotations.append(dict(text=ytitles[r], x=px(YTITLE_X[c]), y=py(YTITLE_Y[r]), xref="paper", yref="paper",
                                xanchor="center", yanchor="middle", textangle=-90, showarrow=False,
                                font=dict(family="Liberation Sans, Arial, sans-serif", size=11.7, color="#222222")))

# cut-off figure caption above the table (only its descenders remain visible)
annotations.append(dict(text="<b>Figura 3. Gráficos de dispersión</b>", x=px(24), y=1.0, xref="paper", yref="paper",
                        xanchor="left", yanchor="bottom", yshift=0, showarrow=False,
                        font=dict(family="Liberation Sans, Arial, sans-serif", size=17, color="#231f20")))

layout["shapes"] = shapes
layout["annotations"] = annotations
fig.update_layout(**layout)

page_script = (
    "document.documentElement.style.margin='0';document.body.style.margin='0';"
    "document.documentElement.style.overflow='hidden';document.body.style.overflow='hidden';"
)
fig.write_html("out.html", config={"displayModeBar": False}, post_script=page_script)
